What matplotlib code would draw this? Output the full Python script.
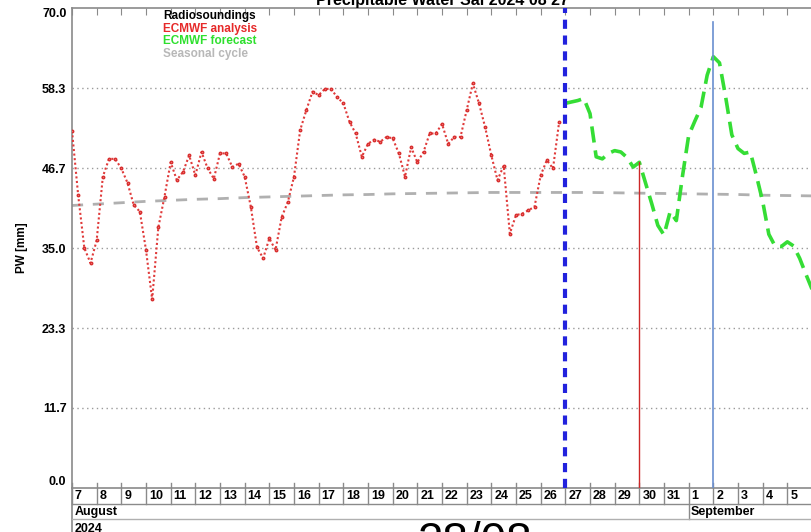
import matplotlib
matplotlib.use("Agg")
import matplotlib.pyplot as plt
import matplotlib.transforms as mtransforms
import numpy as np

plt.rcParams['font.family'] = ['Liberation Sans', 'DejaVu Sans']

# ---------------- data (day of August 2024, PW in mm) ----------------
analysis_start = 7.0          # 6-hourly from Aug 7 00UTC
analysis_pw = [52.1, 42.7, 35.0, 32.8, 36.1, 45.4, 48.0, 48.0,
               46.6, 44.5, 41.3, 40.3, 34.7, 27.5, 38.0, 42.5,
               47.5, 44.9, 46.1, 48.5, 45.6, 49.0, 46.6, 45.1,
               48.8, 48.8, 46.8, 47.3, 45.4, 41.0, 35.1, 33.5,
               36.4, 34.7, 39.5, 41.7, 45.4, 52.2, 55.1, 57.8,
               57.3, 58.2, 58.2, 57.0, 56.1, 53.4, 51.7, 48.3,
               50.2, 50.8, 50.5, 51.2, 51.0, 48.8, 45.4, 49.7,
               47.5, 49.0, 51.7, 51.7, 53.1, 50.2, 51.2, 51.2,
               55.1, 59.0, 56.1, 52.6, 48.5, 44.9, 47.0, 37.1,
               39.8, 40.0, 40.5, 41.0, 45.6, 47.8, 46.6, 53.4]

forecast_start = 27.0         # 6-hourly from Aug 27 00UTC
forecast_pw = [56.1, 56.3, 56.5, 56.8, 54.6, 48.3, 48.0, 48.8,
               49.2, 49.0, 48.2, 46.8, 47.5, 44.5, 41.5, 38.3,
               36.9, 40.3, 39.0, 45.5, 51.4, 53.5, 55.5, 60.2,
               62.9, 62.0, 57.0, 51.5, 49.5, 48.8, 49.0, 45.5,
               41.8, 37.0, 35.3, 35.2, 35.9, 35.3, 33.5, 31.2, 29.0]

season_days = list(range(7, 38))
season_pw = [41.2, 41.4, 41.6, 41.8, 41.95, 42.1, 42.2, 42.35, 42.45, 42.55,
             42.65, 42.75, 42.8, 42.9, 42.95, 43.0, 43.05, 43.1, 43.1, 43.1,
             43.1, 43.1, 43.05, 43.0, 42.95, 42.9, 42.85, 42.8, 42.7, 42.65, 42.6]

day_ticks = list(range(7, 38))
day_labels = [str(d) for d in range(7, 32)] + [str(d) for d in range(1, 7)]

y_ticks = [0, 70/6, 140/6, 35, 280/6, 350/6, 70]
y_labels = ['0.0', '11.7', '23.3', '35.0', '46.7', '58.3', '70.0']

run_day = 27
red_mark = 30
blue_mark = 33

# ---------------- figure ----------------
fig = plt.figure(figsize=(8.12, 5.32), dpi=100)
ax = fig.add_axes([72/812, 44/532, 740/812, 480/532])

t_an = analysis_start + 0.25*np.arange(len(analysis_pw))
t_fc = forecast_start + 0.25*np.arange(len(forecast_pw))

for yv in y_ticks[1:-1]:
    ax.axhline(yv, color='#9a9a9a', lw=1.0, ls=(0, (1, 2.5)), zorder=1)

ax.plot(season_days, season_pw, color='#b0b0b0', lw=2.0, ls=(0, (4, 3.5)), zorder=2)
ax.plot(t_an, analysis_pw, color='#e03a3a', lw=1.5, ls=(0, (1, 1.2)),
        marker='o', ms=1.8, mec='#d83030', mfc='#f07070', zorder=3)
ax.plot(t_fc, forecast_pw, color='#35dd35', lw=2.6, ls=(0, (4.5, 2.2)), zorder=3)

ax.axvline(run_day, color='#2222dd', lw=3, ls=(0, (2.2, 1.6)), zorder=4)
ax.plot([red_mark, red_mark], [0, 47.5], color='#cc2828', lw=1.0, zorder=4)
ax.plot([blue_mark, blue_mark], [0, 68.0], color='#6a8fd0', lw=1.2, zorder=4)

ax.set_xlim(7, 7 + 740/24.75)
ax.set_ylim(0, 70)

for s in ['left', 'top', 'bottom']:
    ax.spines[s].set_color('#8a8a8a')
    ax.spines[s].set_linewidth(1.2)
ax.spines['right'].set_visible(False)

ax.set_xticks(day_ticks)
ax.set_xticklabels([])
ax.tick_params(axis='x', bottom=False, top=True, direction='in', length=5,
               color='#8a8a8a')
ax.set_yticks(y_ticks)
ax.set_yticklabels(y_labels, fontweight='bold', fontsize=9)
ax.tick_params(axis='y', length=0, pad=4)
tl = ax.get_yticklabels()
tl[-1].set_verticalalignment('top')
tl[0].set_verticalalignment('bottom')
ax.set_ylabel('PW [mm]', fontweight='bold', fontsize=8.5, labelpad=10)

# date table under the axis
trans = mtransforms.blended_transform_factory(ax.transData, ax.transAxes)
row1 = -16/480
row2 = -31/480
for d, lab in zip(day_ticks, day_labels):
    low = row2 if d == 32 else row1
    ax.plot([d, d], [5/480, low], color='#8a8a8a', lw=1.0, transform=trans,
            clip_on=False)
    ax.text(d + 0.12, -8/480, lab, transform=trans, fontsize=9,
            fontweight='bold', ha='left', va='center', clip_on=False)
ax.plot([7, 7], [0, -50/480], color='#8a8a8a', lw=1.2, transform=trans, clip_on=False)
ax.plot([7, 40], [row1, row1], color='#8a8a8a', lw=1.0, transform=trans, clip_on=False)
ax.plot([7, 40], [row2, row2], color='#b0b0b0', lw=1.0, transform=trans, clip_on=False)
ax.text(7.1, -24/480, 'August', transform=trans, fontsize=9, fontweight='bold',
        ha='left', va='center')
ax.text(32.1, -24/480, 'September', transform=trans, fontsize=9,
        fontweight='bold', ha='left', va='center')
ax.text(7.1, -35/480, '2024', transform=trans, fontsize=9, fontweight='bold',
        ha='left', va='top')

# legend text
leg = [('Radiosoundings', 'black'), ('ECMWF analysis', '#e62a2a'),
       ('ECMWF forecast', '#2ee02e'), ('Seasonal cycle', '#b8b8b8')]
for i, (txt, col) in enumerate(leg):
    fig.text(163/812, 1 - (16 + 12.7*i)/532, txt, color=col, fontsize=8.5,
             fontweight='bold', ha='left', va='center')

fig.text(442/812, 1 - 4.5/532, 'Precipitable Water Sal 2024 08 27',
         fontsize=11.5, fontweight='bold', ha='center', va='baseline')
fig.text(475/812, 1 - 555/532, '28/08', fontsize=33, ha='center',
         va='baseline')

fig.savefig('out.png', dpi=100)
